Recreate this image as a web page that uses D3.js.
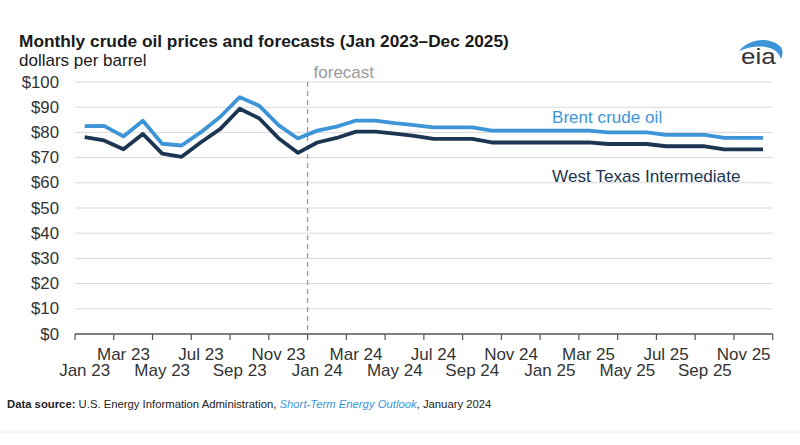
<!DOCTYPE html>
<html>
<head>
<meta charset="utf-8">
<script src="https://cdn.jsdelivr.net/npm/d3@7"></script>
<style>
  body { margin: 0; background: #fff; }
  svg { display: block; font-family: "Liberation Sans", Arial, sans-serif; }
</style>
</head>
<body>
<script>
'use strict';

// months Jan 2023 .. Dec 2025
const months = d3.range(36);
const tickLabels = ["Jan 23", "Mar 23", "May 23", "Jul 23", "Sep 23", "Nov 23",
                    "Jan 24", "Mar 24", "May 24", "Jul 24", "Sep 24", "Nov 24",
                    "Jan 25", "Mar 25", "May 25", "Jul 25", "Sep 25", "Nov 25"];
const yTicks = [0, 10, 20, 30, 40, 50, 60, 70, 80, 90, 100];

// dollars per barrel
const brent = [82.5, 82.6, 78.4, 84.6, 75.5, 74.8, 80.1, 86.2, 94.0, 90.6, 82.9, 77.6,
               80.7, 82.3, 84.7, 84.7, 83.7, 82.9, 82.0, 82.0, 82.0, 80.7, 80.7, 80.7,
               80.7, 80.7, 80.7, 80.0, 80.0, 80.0, 79.0, 79.0, 79.0, 77.8, 77.8, 77.8];
const wti   = [78.1, 76.8, 73.3, 79.4, 71.6, 70.3, 76.1, 81.4, 89.4, 85.6, 77.7, 71.9,
               76.0, 77.8, 80.3, 80.3, 79.5, 78.6, 77.4, 77.4, 77.4, 76.0, 76.0, 76.0,
               76.0, 76.0, 76.0, 75.4, 75.4, 75.4, 74.5, 74.5, 74.5, 73.3, 73.3, 73.3];
const forecastStart = 12; // Jan 2024

const width = 800, height = 445;
const brentColor = "#3d95d8";
const wtiColor = "#1b3552";

const svg = d3.select("body").append("svg")
  .attr("width", width)
  .attr("height", height)
  .attr("viewBox", [0, 0, width, height]);

const x = d3.scaleBand().domain(months).range([75, 772.7]).padding(0);
const y = d3.scaleLinear().domain([0, 100]).range([334, 82]);
const cx = i => x(i) + x.bandwidth() / 2;

// title
svg.append("text")
  .attr("x", 19).attr("y", 47)
  .attr("font-size", 17.3).attr("font-weight", "bold").attr("fill", "#1a1a1a")
  .text("Monthly crude oil prices and forecasts (Jan 2023\u2013Dec 2025)");
svg.append("text")
  .attr("x", 19).attr("y", 66)
  .attr("font-size", 17).attr("fill", "#1a1a1a")
  .text("dollars per barrel");

// eia logo
const logo = svg.append("g");
logo.append("path")
  .attr("d", "M739,51 C748,40 768,35 781,47 C783,50 783,55 781,59 C778,47 760,42 739,51 Z")
  .attr("fill", "#3d95d8");
logo.append("text")
  .attr("transform", "translate(741,64) scale(1.18,1)")
  .attr("font-size", 22).attr("fill", "#333")
  .text("eia");

// gridlines
svg.append("g")
  .selectAll("line")
  .data(yTicks.filter(d => d > 0))
  .join("line")
    .attr("x1", 75).attr("x2", 772.7)
    .attr("y1", d => y(d)).attr("y2", d => y(d))
    .attr("stroke", "#d9d9d9").attr("stroke-width", 1);

// y labels
svg.append("g")
  .selectAll("text")
  .data(yTicks)
  .join("text")
    .attr("x", 59).attr("y", d => y(d) + 5.5)
    .attr("text-anchor", "end")
    .attr("font-size", 16.8).attr("fill", "#333")
    .text(d => `$${d}`);

// x axis
const xAxis = svg.append("g");
xAxis.append("line")
  .attr("x1", 75).attr("x2", 772.7)
  .attr("y1", y(0)).attr("y2", y(0))
  .attr("stroke", "#555").attr("stroke-width", 1.5);
const tickPos = months.filter(i => i % 2 === 0).map(i => x(i)).concat([x.range()[1]]);
xAxis.selectAll("line.tick")
  .data(tickPos)
  .join("line")
    .attr("class", "tick")
    .attr("x1", d => d).attr("x2", d => d)
    .attr("y1", y(0)).attr("y2", y(0) + 6)
    .attr("stroke", "#555").attr("stroke-width", 1.2);
xAxis.selectAll("text")
  .data(tickLabels)
  .join("text")
    .attr("x", (d, i) => cx(i * 2))
    .attr("y", (d, i) => i % 2 === 0 ? 376 : 360)
    .attr("text-anchor", "middle")
    .attr("font-size", 17).attr("fill", "#333")
    .text(d => d);

// forecast divider
svg.append("line")
  .attr("x1", x(forecastStart)).attr("x2", x(forecastStart))
  .attr("y1", 82).attr("y2", y(0))
  .attr("stroke", "#9a9a9a").attr("stroke-width", 1.3)
  .attr("stroke-dasharray", "5,4");
svg.append("text")
  .attr("x", x(forecastStart) + 6).attr("y", 78)
  .attr("font-size", 17).attr("fill", "#999")
  .text("forecast");

// lines
const line = d3.line().x((d, i) => cx(i)).y(d => y(d));
[[brent, brentColor], [wti, wtiColor]].forEach(([vals, col]) => {
  svg.append("path")
    .datum(vals)
    .attr("fill", "none")
    .attr("stroke", col)
    .attr("stroke-width", 3.8)
    .attr("stroke-linejoin", "round")
    .attr("d", line);
});

svg.append("text")
  .attr("x", 552).attr("y", 122.5)
  .attr("font-size", 17.1).attr("fill", brentColor)
  .text("Brent crude oil");
svg.append("text")
  .attr("x", 552).attr("y", 182)
  .attr("font-size", 17.2).attr("fill", wtiColor)
  .text("West Texas Intermediate");

// source
const src = svg.append("text")
  .attr("x", 7).attr("y", 408)
  .attr("font-size", 11.3).attr("fill", "#222");
src.append("tspan").attr("font-weight", "bold").text("Data source: ");
src.append("tspan").text("U.S. Energy Information Administration, ");
src.append("tspan").attr("font-style", "italic").attr("fill", brentColor).text("Short-Term Energy Outlook");
src.append("tspan").text(", January 2024");

svg.append("line")
  .attr("x1", 0).attr("x2", width)
  .attr("y1", 432).attr("y2", 432)
  .attr("stroke", "#eeeeee").attr("stroke-width", 1);
</script>
</body>
</html>
